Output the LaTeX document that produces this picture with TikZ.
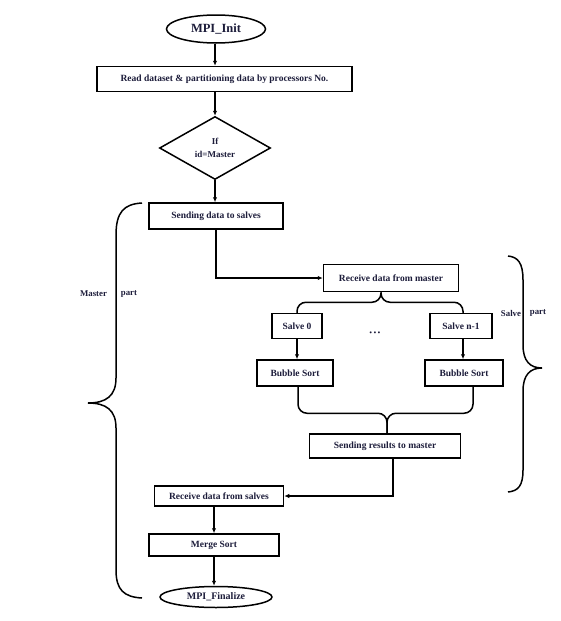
\documentclass[tikz,border=0pt]{standalone}
\usepackage{fontspec}
\setmainfont{Liberation Serif}
\usetikzlibrary{shapes.geometric,arrows.meta}
\definecolor{inkblue}{RGB}{28,28,58}

\begin{document}
\begin{tikzpicture}[x=1pt,y=-1pt,line width=1.5pt,>={Latex[length=5pt,width=4.5pt]},
  box/.style={draw,rectangle,inner sep=0pt,text=inkblue,font=\bfseries\fontsize{9.5}{10}\selectfont},
  term/.style={draw,ellipse,inner sep=0pt,text=inkblue},
  label/.style={text=inkblue,inner sep=0pt,font=\bfseries\fontsize{8.8}{10}\selectfont}]
\useasboundingbox (0,0) rectangle (560,621);

\node[term,minimum width=99pt,minimum height=28pt,font=\bfseries\fontsize{12.5}{14}\selectfont] (init) at (216,29) {MPI\_Init};
\node[box,minimum width=255pt,minimum height=25pt] (read) at (224.5,79) {Read dataset \& partitioning data by processors No.};
\node[draw,diamond,inner sep=0pt,minimum width=111pt,minimum height=63pt,text=inkblue,align=center,
  font=\bfseries\fontsize{9}{12.5}\selectfont] (cond) at (215,148) {If\\id=Master};
\node[box,minimum width=134pt,minimum height=26pt] (send) at (216,216) {Sending data to salves};
\node[box,minimum width=135pt,minimum height=27pt] (recv) at (391,278) {Receive data from master};
\node[box,minimum width=50pt,minimum height=25pt] (s0) at (297,326) {Salve 0};
\node[box,minimum width=62pt,minimum height=25pt] (sn) at (461,326) {Salve n-1};
\node[label,font=\fontsize{8}{8}\selectfont] (dots) at (375,334) {\textbullet\,\textbullet\,\textbullet};
\node[box,minimum width=76pt,minimum height=26pt] (b0) at (295,373) {Bubble Sort};
\node[box,minimum width=78pt,minimum height=26pt] (bn) at (464,373) {Bubble Sort};
\node[box,minimum width=151pt,minimum height=24pt] (res) at (385,446) {Sending results to master};
\node[box,minimum width=129pt,minimum height=20pt] (rcvs) at (219,496) {Receive data from salves};
\node[box,minimum width=130pt,minimum height=22pt] (merge) at (214,545) {Merge Sort};
\node[term,minimum width=112pt,minimum height=21pt,font=\bfseries\fontsize{10}{12}\selectfont] (fin) at (216,597) {MPI\_Finalize};

\node[label] (mlab) at (93.5,294) {Master};
\node[label] (mpart) at (129,294) {part};
\node[label] (slab) at (511,313) {Salve};
\node[label] (spart) at (538,313) {part};

\draw[->] ([xshift=-1pt]init.south) -- ([xshift=-1pt]init.south |- read.north);
\draw[->] (cond.north |- read.south) -- (cond.north);
\draw[->] (cond.south) -- (cond.south |- send.north);
\draw[->] (send.south) |- (recv.west);

\draw[rounded corners=9pt] (s0.north) |- ([xshift=-10pt,yshift=-10pt]recv.south) -- ([xshift=-10pt]recv.south);
\draw[rounded corners=9pt] ([xshift=2pt]sn.north) |- ([xshift=-10pt,yshift=-10pt]recv.south) -- ([xshift=-10pt]recv.south);
\draw[->] (s0.south) -- (b0.north -| s0.south);
\draw[->] ([xshift=2pt]sn.south) -- ([xshift=2pt]sn.south |- bn.north);
\draw[rounded corners=9pt] ([xshift=3pt]b0.south) |- ([xshift=2pt,yshift=20pt]res.north) -- ([xshift=2pt]res.north);
\draw[rounded corners=9pt] ([xshift=9pt]bn.south) |- ([xshift=2pt,yshift=20pt]res.north) -- ([xshift=2pt]res.north);

\draw[->] ([xshift=8pt]res.south) |- (rcvs.east);
\draw[->] ([xshift=-5pt]rcvs.south) -- ([xshift=-5pt]rcvs.south |- merge.north);
\draw[->] (merge.south) -- (merge.south |- fin.north);

% braces
\draw (142,203) .. controls (124,204) and (116,212) .. (116,235) -- (116,378)
  .. controls (116,396) and (106,403) .. (88,403) .. controls (106,403) and (116,410) .. (116,428)
  -- (116,570) .. controls (116,590) and (124,597) .. (142,598);
\draw (508,256) .. controls (518,257) and (523,263) .. (523,280) -- (523,345)
  .. controls (523,361) and (530,368) .. (542,368) .. controls (530,368) and (523,375) .. (523,391)
  -- (523,470) .. controls (523,486) and (518,491) .. (508,492);
\end{tikzpicture}
\end{document}
